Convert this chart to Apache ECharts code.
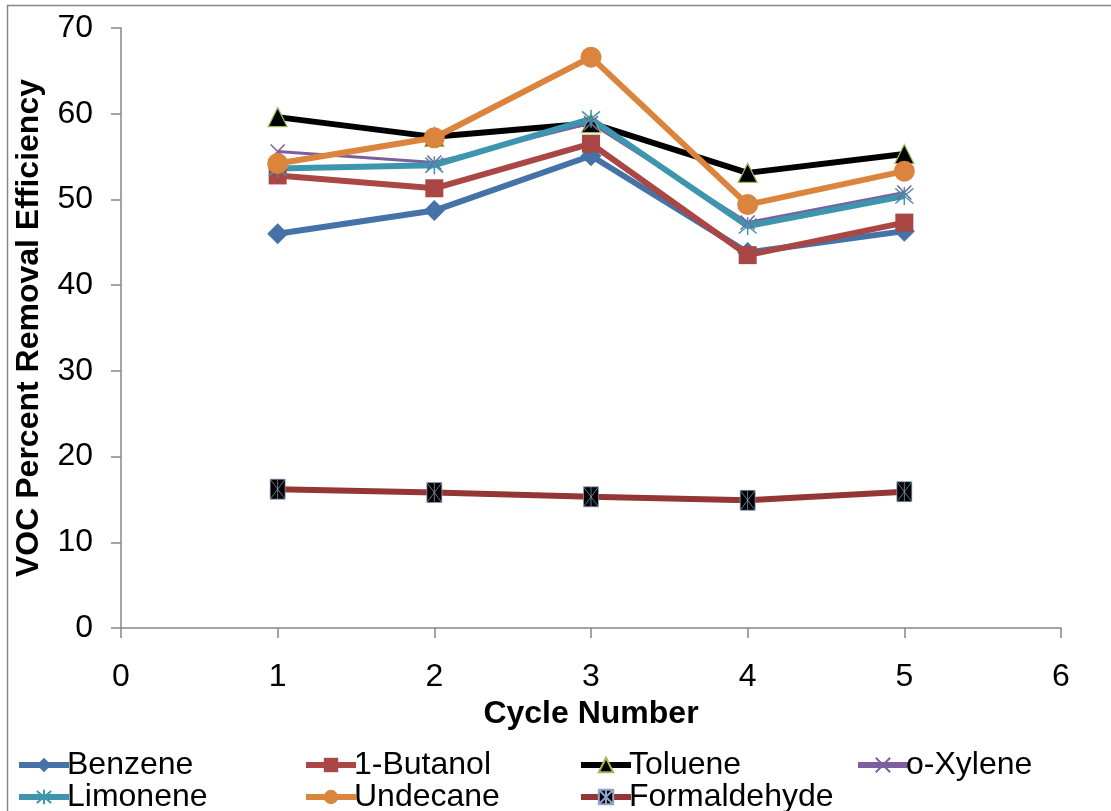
<!DOCTYPE html>
<html>
<head>
<meta charset="utf-8">
<script src="https://cdn.jsdelivr.net/npm/echarts@6/dist/echarts.min.js"></script>
<style>
html,body{margin:0;padding:0;background:#fff;}
#chart{width:1111px;height:811px;}
</style>
</head>
<body>
<div id="chart"></div>
<script>
var cycles = [1, 2, 3, 4, 5];
var benzene = [46.0, 48.7, 55.1, 43.8, 46.3];
var butanol = [52.8, 51.3, 56.5, 43.5, 47.3];
var toluene = [59.6, 57.3, 58.9, 53.1, 55.3];
var oxylene = [55.6, 54.3, 58.9, 47.3, 50.8];
var limonene = [53.6, 54.0, 59.4, 46.9, 50.4];
var undecane = [54.2, 57.2, 66.6, 49.4, 53.3];
var formaldehyde = [16.2, 15.8, 15.3, 14.9, 15.9];
var seriesNames = ['Benzene', '1-Butanol', 'Toluene', 'o-Xylene', 'Limonene', 'Undecane', 'Formaldehyde'];
var xTicks = [0, 6, 1];
var yTicks = [0, 70, 10];

function pairs(v) { return cycles.map(function (c, i) { return [c, v[i]]; }); }

var FONT = 'Liberation Sans, Arial, sans-serif';
var FS = 32;
var xPath = 'path://M0,0 L10,10 M10,0 L0,10';
var astPath = 'path://M0,0 L10,10 M10,0 L0,10 M5,-1 L5,11';
var boxPath = 'path://M0,0 L10,0 L10,14 L0,14 Z M0,0 L10,14 M10,0 L0,14 M5,0 L5,14';

var chart = echarts.init(document.getElementById('chart'), null, {renderer: 'canvas'});

var series = [
  {name: seriesNames[0], data: pairs(benzene), symbol: 'diamond', symbolSize: 21,
   lineStyle: {color: '#4572A7', width: 6}, itemStyle: {color: '#4572A7'}},
  {name: seriesNames[1], data: pairs(butanol), symbol: 'rect', symbolSize: 18,
   lineStyle: {color: '#AA4643', width: 6}, itemStyle: {color: '#AA4643'}},
  {name: seriesNames[2], data: pairs(toluene), symbol: 'triangle', symbolSize: 19,
   lineStyle: {color: '#000000', width: 6}, itemStyle: {color: '#000000', borderColor: '#9BBB59', borderWidth: 1.2}},
  {name: seriesNames[3], data: pairs(oxylene), symbol: xPath, symbolSize: 14,
   lineStyle: {color: '#7E5F9E', width: 3}, itemStyle: {color: '#7E5F9E', borderColor: '#7E5F9E', borderWidth: 1.5}},
  {name: seriesNames[4], data: pairs(limonene), symbol: astPath, symbolSize: 18,
   lineStyle: {color: '#3D96AE', width: 6}, itemStyle: {color: '#3D96AE', borderColor: '#3D96AE', borderWidth: 1.5}},
  {name: seriesNames[5], data: pairs(undecane), symbol: 'circle', symbolSize: 21,
   lineStyle: {color: '#DB843D', width: 6}, itemStyle: {color: '#DB843D'}},
  {name: seriesNames[6], data: pairs(formaldehyde), symbol: boxPath, symbolSize: [15, 20],
   lineStyle: {color: '#943634', width: 6}, itemStyle: {color: '#000000', borderColor: '#8EA4C8', borderWidth: 0.7}}
];
series.forEach(function (s) {
  s.type = 'line';
  s.showSymbol = true;
  s.animation = false;
  s.emphasis = {disabled: true};
});

var legendPos = [
  [16, 749], [303, 749], [578, 749], [855, 749],
  [16, 781], [303, 781], [578, 781]
];
var legends = seriesNames.map(function (n, i) {
  return {
    data: [n], left: legendPos[i][0], top: legendPos[i][1], padding: 0,
    itemWidth: 50, itemHeight: 18, itemGap: 0,
    lineStyle: {width: 6},
    textStyle: {fontFamily: FONT, fontSize: FS, color: '#000', padding: [0, 0, 0, -7]},
    selectedMode: false
  };
});

var axisLine = {show: true, onZero: false, lineStyle: {color: '#868686', width: 1.5}};
chart.setOption({
  animation: false,
  backgroundColor: '#fff',
  graphic: [{type: 'rect', shape: {x: 7.5, y: 5.5, width: 1300, height: 1000},
    style: {fill: 'none', stroke: '#868686', lineWidth: 1.5}, silent: true}],
  grid: {left: 121, right: 50, top: 28, bottom: 183, containLabel: false},
  legend: legends,
  xAxis: {
    type: 'value', min: xTicks[0], max: xTicks[1], interval: xTicks[2],
    name: 'Cycle Number', nameLocation: 'middle', nameGap: 70,
    nameTextStyle: {fontFamily: FONT, fontSize: FS, fontWeight: 'bold', color: '#000'},
    axisLine: axisLine,
    axisTick: {show: true, length: 10, lineStyle: {color: '#868686', width: 1.5}},
    axisLabel: {fontFamily: FONT, fontSize: FS, color: '#000', margin: 33},
    splitLine: {show: false}
  },
  yAxis: {
    type: 'value', min: yTicks[0], max: yTicks[1], interval: yTicks[2],
    name: 'VOC Percent Removal Efficiency', nameLocation: 'middle', nameGap: 76,
    nameTextStyle: {fontFamily: FONT, fontSize: FS, fontWeight: 'bold', color: '#000'},
    axisLine: axisLine,
    axisTick: {show: true, length: 10, lineStyle: {color: '#868686', width: 1.5}},
    axisLabel: {fontFamily: FONT, fontSize: FS, color: '#000', margin: 28},
    splitLine: {show: false}
  },
  series: series
});
</script>
</body>
</html>
